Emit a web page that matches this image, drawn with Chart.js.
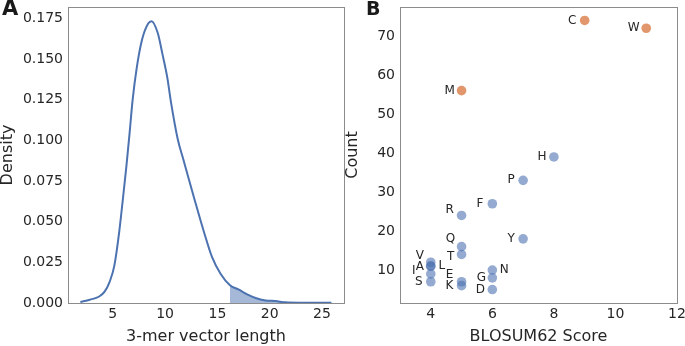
<!DOCTYPE html>
<html>
<head>
<meta charset="utf-8">
<script src="https://cdn.jsdelivr.net/npm/chart.js@4"></script>
<style>
  body { margin: 0; background: #fff; }
  #wrap { position: relative; width: 685px; height: 346px; }
  canvas { position: absolute; top: 0; }
  #kde { left: 0; }
  #blosum { left: 345px; }
</style>
</head>
<body>
<div id="wrap">
  <canvas id="kde" width="345" height="346" style="width:345px;height:346px"></canvas>
  <canvas id="blosum" width="340" height="346" style="width:340px;height:346px"></canvas>
</div>
<script>
// ---- panel A : KDE of 3-mer vector length ----
const kdeLength = [1.9, 2.8, 3.7, 4.2, 4.7, 5.15, 5.6, 5.95, 6.3, 6.6, 6.9, 7.3, 7.8, 8.4, 8.7, 9.3, 9.75, 10.2, 10.55, 11.2, 11.8, 12.8, 13.7, 14.5, 15.3, 16.2, 17.05, 17.85, 18.65, 19.6, 20.55, 21.5, 22.8, 25.9];
const kdeDensity = [0.0006, 0.002, 0.004, 0.0068, 0.013, 0.023, 0.043, 0.063, 0.084, 0.104, 0.125, 0.145, 0.162, 0.172, 0.1733, 0.166, 0.153, 0.139, 0.124, 0.101, 0.087, 0.064, 0.044, 0.028, 0.018, 0.0109, 0.0082, 0.0053, 0.0031, 0.0016, 0.0012, 0.0004, 0.0002, 0.0002];
const tailStart = 16.2;
const kdeXTicks = [5, 10, 15, 20, 25];
const kdeYTicks = [0, 0.025, 0.05, 0.075, 0.1, 0.125, 0.15, 0.175];

// ---- panel B : BLOSUM62 score vs count ----
const aminoAcids = ['C', 'W', 'M', 'H', 'P', 'F', 'R', 'Y', 'Q', 'T', 'V', 'A', 'L', 'I', 'S', 'E', 'K', 'N', 'G', 'D'];
const blosumScore = [9, 11, 5, 8, 7, 6, 5, 7, 5, 5, 4, 4, 4, 4, 4, 5, 5, 6, 6, 6];
const kmerCount = [74, 72, 56, 39, 33, 27, 24, 18, 16, 14, 12, 11, 11, 9, 7, 7, 6, 10, 8, 5];
const highlighted = ['C', 'W', 'M'];
const scoreTicks = [4, 6, 8, 10, 12];
const countTicks = [10, 20, 30, 40, 50, 60, 70];

// label nudges in px (dx, dy) from each point
const labelNudge = {
  C: [-12.5, 0], W: [-12.5, 0], M: [-12, 0], H: [-12, 0], P: [-12, 0], F: [-12.5, 0],
  R: [-12, -6], Y: [-12, 0], Q: [-11, -7.5], T: [-11, 2.5], V: [-11, -6.5], A: [-11, 1],
  L: [11, 0], I: [-17, -3.5], S: [-12, 0], E: [-12, -6.5], K: [-12, 0], N: [12, 0],
  G: [-11, 0], D: [-12, 0]
};

/*
  ================ STYLE ================
*/
const FONT = 'DejaVu Sans';
const TEXT = '#262626';
const SPINE = '#8c8c8c';
const BLUE = '#4c72b0';
const tickFont = { family: FONT, size: 14 };
const titleFont = { family: FONT, size: 16 };

const frame = {
  id: 'frame',
  afterDraw(chart, args, opts) {
    const { ctx, chartArea: a } = chart;
    ctx.save();
    ctx.strokeStyle = SPINE;
    ctx.lineWidth = 1;
    ctx.strokeRect(Math.round(a.left) + 0.5, Math.round(a.top) + 0.5, Math.round(a.right - a.left), Math.round(a.bottom - a.top));
    ctx.fillStyle = '#1a1a1a';
    ctx.font = 'bold ' + opts.size + 'px ' + FONT;
    ctx.textAlign = 'left';
    ctx.textBaseline = 'alphabetic';
    ctx.fillText(opts.letter, opts.lx, opts.ly);
    ctx.restore();
  }
};

let fixAxis = (size, horizontal) => s => {
  if (horizontal) s.height = size; else s.width = size;
  s.paddingLeft = s.paddingRight = s.paddingTop = s.paddingBottom = 0;
};
let setTicks = vals => s => { s.ticks = vals.map(v => ({ value: v })); };

let axis = (o) => ({
  type: 'linear',
  min: o.min, max: o.max,
  afterBuildTicks: setTicks(o.ticks),
  afterFit: fixAxis(o.size, o.horizontal),
  grid: { display: false, drawTicks: false },
  border: { display: false },
  ticks: {
    color: TEXT, font: tickFont, padding: o.horizontal ? 3 : 5, autoSkip: false, maxRotation: 0,
    callback: o.fmt || (v => v)
  },
  title: {
    display: true, text: o.title, color: TEXT,
    font: Object.assign({ lineHeight: o.horizontal ? 1.2 : 1 }, titleFont),
    padding: 0
  }
});

/*
  ================ PANEL A ================
*/
const kdePoints = kdeLength.map((x, i) => ({ x, y: kdeDensity[i] }));
const tailPoints = kdePoints.filter(p => p.x >= tailStart);

new Chart(document.getElementById('kde'), {
  type: 'scatter',
  data: {
    datasets: [
      {
        data: kdePoints, showLine: true, borderColor: BLUE, borderWidth: 2,
        pointRadius: 0, cubicInterpolationMode: 'monotone', fill: false
      },
      {
        data: tailPoints, showLine: true, borderWidth: 0, borderColor: 'rgba(0,0,0,0)',
        backgroundColor: 'rgba(76,114,176,0.5)', pointRadius: 0,
        cubicInterpolationMode: 'monotone', fill: 'origin'
      }
    ]
  },
  options: {
    responsive: false,
    animation: false,
    layout: { padding: { top: 7, right: 1, left: 0, bottom: 0 } },
    plugins: {
      legend: { display: false },
      tooltip: { enabled: false },
      frame: { letter: 'A', lx: 2, ly: 15, size: 21 }
    },
    scales: {
      x: axis({ min: 0.72, max: 27.1, ticks: kdeXTicks, size: 43, horizontal: true, title: '3-mer vector length' }),
      y: axis({ min: 0, max: 0.182, ticks: kdeYTicks, size: 68, horizontal: false, title: 'Density', fmt: v => v.toFixed(3) })
    }
  },
  plugins: [frame]
});

/*
  ================ PANEL B ================
*/
const pointLabels = {
  id: 'pointLabels',
  afterDatasetsDraw(chart) {
    const { ctx } = chart;
    const meta = chart.getDatasetMeta(0);
    ctx.save();
    ctx.fillStyle = TEXT;
    ctx.font = '12px ' + FONT;
    ctx.textAlign = 'center';
    ctx.textBaseline = 'middle';
    meta.data.forEach((pt, i) => {
      const [dx, dy] = labelNudge[aminoAcids[i]] || [-12, 0];
      ctx.fillText(aminoAcids[i], pt.x + dx, pt.y + dy);
    });
    ctx.restore();
  }
};

new Chart(document.getElementById('blosum'), {
  type: 'scatter',
  data: {
    datasets: [{
      data: blosumScore.map((x, i) => ({ x, y: kmerCount[i] })),
      pointRadius: 4.8,
      pointBorderWidth: 0,
      pointBackgroundColor: aminoAcids.map(a => highlighted.includes(a) ? 'rgba(221,132,82,0.85)' : 'rgba(76,114,176,0.6)')
    }]
  },
  options: {
    responsive: false,
    animation: false,
    layout: { padding: { top: 7, right: 8, left: 0, bottom: 0 } },
    plugins: {
      legend: { display: false },
      tooltip: { enabled: false },
      frame: { letter: 'B', lx: 21, ly: 15, size: 19 }
    },
    scales: {
      x: axis({ min: 3, max: 12, ticks: scoreTicks, size: 43, horizontal: true, title: 'BLOSUM62 Score' }),
      y: axis({ min: 1.55, max: 77.45, ticks: countTicks, size: 55, horizontal: false, title: 'Count' })
    }
  },
  plugins: [frame, pointLabels]
});
</script>
</body>
</html>
